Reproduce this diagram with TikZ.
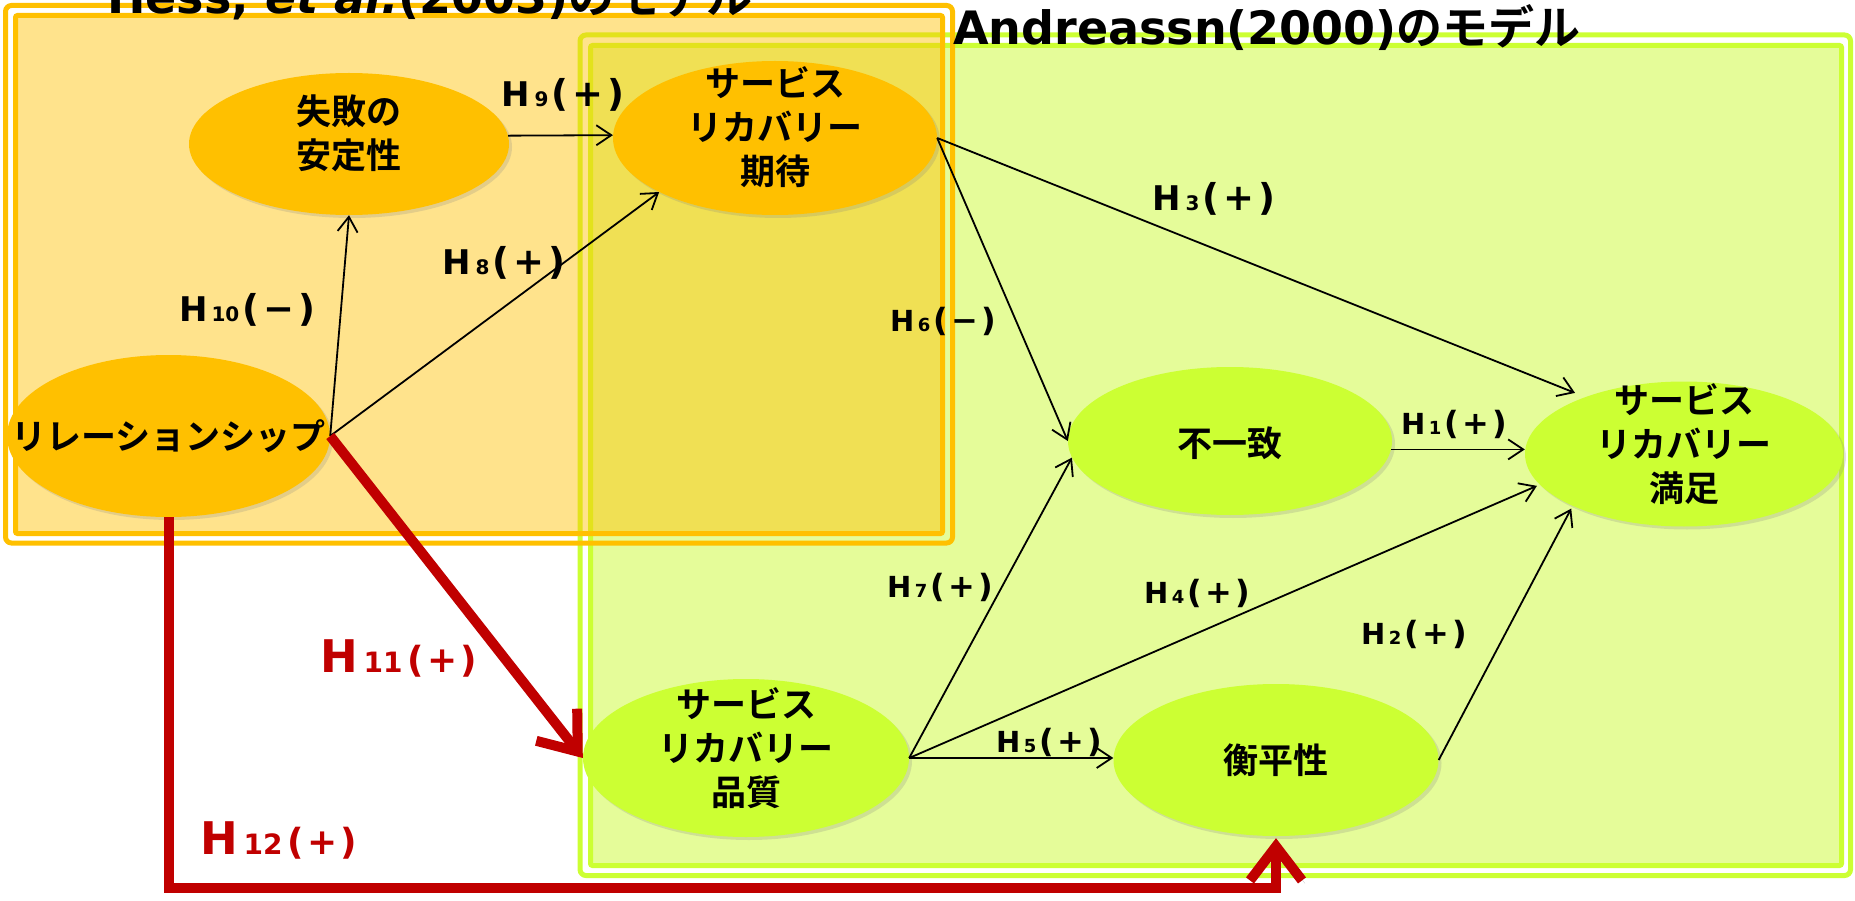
\documentclass[tikz,border=0pt]{standalone}
\usepackage{fontspec}
\setmainfont{DejaVu Sans}
\newfontfamily\jp{Noto Sans CJK JP}[BoldFont=* Bold]
\usetikzlibrary{shapes.geometric,arrows.meta,shadows}
\definecolor{orE}{HTML}{FFC000}
\definecolor{grE}{HTML}{CCFF33}
\definecolor{grF}{HTML}{E5FC99}
\definecolor{redA}{HTML}{C00000}
\newcommand\HL[5]{{\bfseries\fontsize{#1}{#1}\selectfont H\hspace{0.12em}{\fontsize{#2}{#2}\selectfont #4}\hspace{0.1em}{\fontsize{#3}{#3}\selectfont(\hspace{0.1em}#5\hspace{0.1em})}}}
\tikzset{
  ell/.style={ellipse, inner sep=0pt,
    drop shadow={opacity=0.22, shadow xshift=3pt, shadow yshift=-3pt}},
  ellO/.style={ell, fill=orE},
  ellG/.style={ell, fill=grE},
  etxt/.style={inner sep=0pt, align=center, font=\jp\bfseries\fontsize{35}{44}\selectfont},
  conn/.style={draw=black, line width=1.8pt, -{Straight Barb[length=15pt,width=20pt]}},
  redc/.style={draw=redA, line width=10pt, line join=miter, -{Straight Barb[length=34pt,width=52pt]},
    preaction={draw=black, draw opacity=0.18, transform canvas={xshift=3pt, yshift=-3pt}}},
  lab/.style={inner sep=0pt},
  redlab/.style={inner sep=0pt, text=redA},
  ttl/.style={anchor=base west, inner sep=0pt, font=\bfseries\fontsize{46}{46}\selectfont}
}
\begin{document}
\begin{tikzpicture}[x=1pt,y=-1pt]
\useasboundingbox (0,0) rectangle (1855,901);
\clip (0,0) rectangle (1855,901);
% Andreassn box
\draw[draw=grE, line width=5pt, rounded corners=6pt] (580,35) rectangle (1850.5,875.5);
\draw[draw=grE, fill=grF, line width=5pt, rounded corners=2pt] (590.5,45.5) rectangle (1841.5,865.5);
% Hess box
\draw[draw=orE, line width=5pt, rounded corners=6pt] (5.5,5.5) rectangle (952.5,543);
\draw[draw=orE, fill=orE, fill opacity=0.45, line width=5pt, rounded corners=2pt] (15.5,15.5) rectangle (942.5,533.5);
% titles
\node[ttl] (hesst) at (107,13.5) {Hess, {\itshape et al.}(2003){\jp\bfseries のモデル}};
\node[ttl] (andt) at (953,45) {Andreassn(2000){\jp\bfseries のモデル}};
% ellipses
\node[ellO, minimum width=320pt, minimum height=142pt,
  label={[etxt, yshift=11pt]center:{失敗の\\安定性}}] (fail) at (349,144) {};
\node[ellO, minimum width=324pt, minimum height=154pt,
  label={[etxt, yshift=11pt]center:{サービス\\リカバリー\\期待}}] (exp) at (775,138) {};
\node[ellO, minimum width=323pt, minimum height=162pt,
  label={[etxt]center:{リレーションシップ}}] (rel) at (168.5,436) {};
\node[ellG, minimum width=324pt, minimum height=148pt,
  label={[etxt, yshift=-2pt]center:{不一致}}] (dis) at (1230,441) {};
\node[ellG, minimum width=318pt, minimum height=145pt,
  label={[etxt, yshift=10pt]center:{サービス\\リカバリー\\満足}}] (sat) at (1684,454) {};
\node[ellG, minimum width=326pt, minimum height=158pt,
  label={[etxt, yshift=10pt]center:{サービス\\リカバリー\\品質}}] (qual) at (746,758) {};
\node[ellG, minimum width=325pt, minimum height=152pt,
  label={[etxt]center:{衡平性}}] (eq) at (1276,760) {};
% connectors
\draw[conn] (fail.3) -- (exp.179);
\draw[conn] (rel.east) -- (fail.south);
\draw[conn] (rel.east) -- (exp.205);
\draw[conn, shorten >=11pt] (exp.east) -- (sat.150);
\draw[conn] (exp.east) -- (dis.180);
\draw[conn] (dis.-3) -- (dis.-3 -| sat.west);
\draw[conn] (qual.east) -- (dis.186);
\draw[conn, shorten >=3pt] (qual.east) -- (sat.192);
\draw[conn] (qual.east) -- (qual.east -| eq.west);
\draw[conn, shorten >=3pt] (eq.east) -- (sat.205);
\draw[redc] (rel.east) -- (qual.west);
\coordinate (h12) at (0,888);
\draw[redc, shorten >=2pt] (rel.south) -- (rel.south |- h12) -- (eq.south |- h12) -- (eq.south);
% labels
\node[lab] (l9) at (563,95) {\HL{34}{20}{37}{9}{+}};
\node[lab] (l3) at (1214,199) {\HL{34}{20}{37}{3}{+}};
\node[lab] (l8) at (504,263) {\HL{34}{20}{37}{8}{+}};
\node[lab] (l10) at (247,310) {\HL{34}{20}{37}{10}{−}};
\node[lab] (l6) at (943,321) {\HL{29}{18}{32}{6}{−}};
\node[lab] (l1) at (1454,424) {\HL{29}{18}{32}{1}{+}};
\node[lab] (l7) at (940,587) {\HL{29}{18}{32}{7}{+}};
\node[lab] (l4) at (1197,593) {\HL{29}{18}{32}{4}{+}};
\node[lab] (l2) at (1414,634) {\HL{29}{18}{32}{2}{+}};
\node[lab] (l5) at (1049,742) {\HL{29}{18}{32}{5}{+}};
\node[redlab] (l11) at (399,658) {\HL{45}{28}{36}{11}{+}};
\node[redlab] (l12) at (279,840) {\HL{45}{28}{36}{12}{+}};
\end{tikzpicture}
\end{document}
